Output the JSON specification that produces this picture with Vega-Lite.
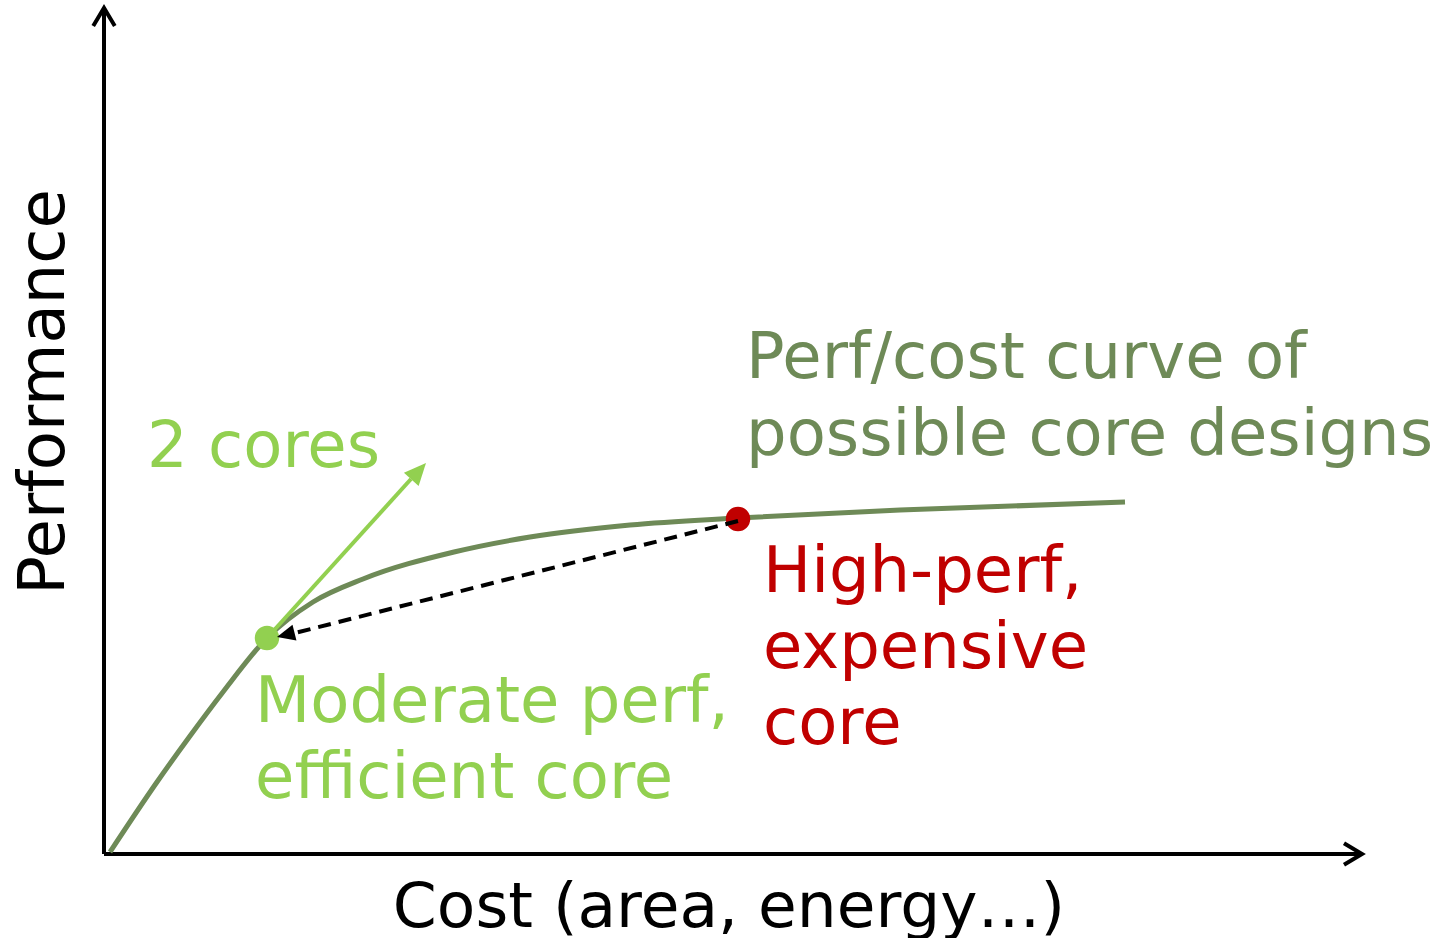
{
  "$schema": "https://vega.github.io/schema/vega-lite/v6.json",
  "width": 1258,
  "height": 846,
  "autosize": {"type": "none"},
  "padding": {"left": 104, "top": 8, "right": 79, "bottom": 84},
  "background": "white",
  "config": {"view": {"stroke": null}, "text": {"font": "DejaVu Sans"}},
  "datasets": {
    "curve": [
      {"cost": 6, "perf": 2},
      {"cost": 53, "perf": 72},
      {"cost": 86, "perf": 118},
      {"cost": 119, "perf": 162},
      {"cost": 163, "perf": 216},
      {"cost": 209, "perf": 252},
      {"cost": 259, "perf": 275},
      {"cost": 350, "perf": 302},
      {"cost": 426, "perf": 317},
      {"cost": 526, "perf": 329},
      {"cost": 634, "perf": 336},
      {"cost": 796, "perf": 344},
      {"cost": 1021, "perf": 352}
    ],
    "axes": [
      {"cost": 0, "perf": 0, "cost_end": 0, "perf_end": 846},
      {"cost": 0, "perf": 0, "cost_end": 1258, "perf_end": 0}
    ],
    "designs": [
      {"design": "efficient", "cost": 163, "perf": 216},
      {"design": "high-perf", "cost": 634, "perf": 335}
    ],
    "labels": [
      {"label": "2 cores", "cost": 43, "perf": 387, "design": "efficient"},
      {"label": "Moderate perf,", "cost": 151, "perf": 132, "design": "efficient"},
      {"label": "efficient core", "cost": 151, "perf": 56, "design": "efficient"},
      {"label": "High-perf,", "cost": 659, "perf": 262, "design": "high-perf"},
      {"label": "expensive", "cost": 659, "perf": 186, "design": "high-perf"},
      {"label": "core", "cost": 659, "perf": 110, "design": "high-perf"},
      {"label": "Perf/cost curve of", "cost": 642, "perf": 476, "design": "curve"},
      {"label": "possible core designs", "cost": 642, "perf": 399, "design": "curve"}
    ]
  },
  "layer": [
    {
      "data": {"name": "axes"},
      "mark": {"type": "rule", "stroke": "black", "strokeWidth": 4},
      "encoding": {
        "x": {"field": "cost", "type": "quantitative", "scale": {"domain": [0, 1258], "nice": false, "zero": false}, "axis": null},
        "y": {"field": "perf", "type": "quantitative", "scale": {"domain": [0, 846], "nice": false, "zero": false}, "axis": null},
        "x2": {"field": "cost_end"},
        "y2": {"field": "perf_end"}
      }
    },
    {
      "data": {"values": [{"cost": 0, "perf": 846}]},
      "mark": {"type": "point", "shape": "M-0.6,1L0,0L0.6,1", "filled": false, "stroke": "black", "strokeWidth": 4, "size": 1296, "angle": 0, "opacity": 1},
      "encoding": {
        "x": {"field": "cost", "type": "quantitative"},
        "y": {"field": "perf", "type": "quantitative"}
      }
    },
    {
      "data": {"values": [{"cost": 1258, "perf": 0}]},
      "mark": {"type": "point", "shape": "M-0.6,1L0,0L0.6,1", "filled": false, "stroke": "black", "strokeWidth": 4, "size": 1296, "angle": 90, "opacity": 1},
      "encoding": {
        "x": {"field": "cost", "type": "quantitative"},
        "y": {"field": "perf", "type": "quantitative"}
      }
    },
    {
      "data": {"name": "curve"},
      "mark": {"type": "line", "interpolate": "monotone", "stroke": "#6E8A57", "strokeWidth": 5},
      "encoding": {
        "x": {"field": "cost", "type": "quantitative"},
        "y": {"field": "perf", "type": "quantitative"}
      }
    },
    {
      "data": {"name": "designs"},
      "mark": {"type": "point", "filled": true, "size": 600, "opacity": 1},
      "encoding": {
        "x": {"field": "cost", "type": "quantitative"},
        "y": {"field": "perf", "type": "quantitative"},
        "color": {"field": "design", "type": "nominal", "scale": {"domain": ["efficient", "high-perf", "curve"], "range": ["#92D050", "#C00000", "#6E8A57"]}, "legend": null}
      }
    },
    {
      "data": {"values": [{"cost": 163, "perf": 216, "cost_end": 307, "perf_end": 375}]},
      "mark": {"type": "rule", "stroke": "#92D050", "strokeWidth": 4},
      "encoding": {
        "x": {"field": "cost", "type": "quantitative"},
        "y": {"field": "perf", "type": "quantitative"},
        "x2": {"field": "cost_end"},
        "y2": {"field": "perf_end"}
      }
    },
    {
      "data": {"values": [{"cost": 322, "perf": 391}]},
      "mark": {"type": "point", "shape": "M0,0L0.45,1L-0.45,1Z", "filled": true, "fill": "#92D050", "size": 1936, "angle": 42, "opacity": 1},
      "encoding": {
        "x": {"field": "cost", "type": "quantitative"},
        "y": {"field": "perf", "type": "quantitative"}
      }
    },
    {
      "data": {"values": [{"cost": 634, "perf": 333, "cost_end": 191, "perf_end": 221}]},
      "mark": {"type": "rule", "stroke": "black", "strokeWidth": 4, "strokeDash": [13, 8]},
      "encoding": {
        "x": {"field": "cost", "type": "quantitative"},
        "y": {"field": "perf", "type": "quantitative"},
        "x2": {"field": "cost_end"},
        "y2": {"field": "perf_end"}
      }
    },
    {
      "data": {"values": [{"cost": 173, "perf": 217}]},
      "mark": {"type": "point", "shape": "M0,0L0.45,1L-0.45,1Z", "filled": true, "fill": "black", "size": 1296, "angle": 256, "opacity": 1},
      "encoding": {
        "x": {"field": "cost", "type": "quantitative"},
        "y": {"field": "perf", "type": "quantitative"}
      }
    },
    {
      "data": {"name": "labels"},
      "mark": {"type": "text", "align": "left", "baseline": "alphabetic", "fontSize": 64},
      "encoding": {
        "x": {"field": "cost", "type": "quantitative"},
        "y": {"field": "perf", "type": "quantitative"},
        "text": {"field": "label"},
        "color": {"field": "design", "type": "nominal", "legend": null}
      }
    },
    {
      "data": {"values": [{"label": "Cost (area, energy…)", "cost": 625, "perf": -73}]},
      "mark": {"type": "text", "align": "center", "baseline": "alphabetic", "fontSize": 63, "color": "black"},
      "encoding": {
        "x": {"field": "cost", "type": "quantitative"},
        "y": {"field": "perf", "type": "quantitative"},
        "text": {"field": "label"}
      }
    },
    {
      "data": {"values": [{"label": "Performance", "cost": -40, "perf": 462}]},
      "mark": {"type": "text", "align": "center", "baseline": "alphabetic", "fontSize": 64, "angle": 270, "color": "black"},
      "encoding": {
        "x": {"field": "cost", "type": "quantitative"},
        "y": {"field": "perf", "type": "quantitative"},
        "text": {"field": "label"}
      }
    }
  ]
}
